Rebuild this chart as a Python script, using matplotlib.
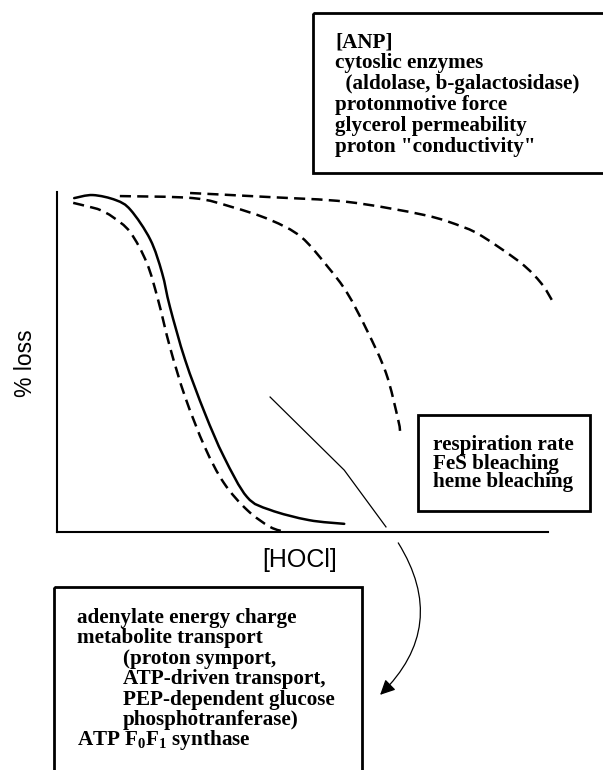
import matplotlib
matplotlib.use("Agg")
import matplotlib.pyplot as plt
from matplotlib.patches import Rectangle, PathPatch
from matplotlib.path import Path

plt.rcParams['lines.scale_dashes'] = False
plt.rcParams['mathtext.fontset'] = 'custom'
plt.rcParams['mathtext.rm'] = 'Liberation Serif:bold'
plt.rcParams['mathtext.it'] = 'Liberation Serif:bold'
plt.rcParams['mathtext.bf'] = 'Liberation Serif:bold'

# ---------------- data (schematic, HOCl in arbitrary units 0-100, y 0-100) ----
solid_x = [3.5, 7.3, 12.0, 15.0, 19.0, 21.4, 23.0, 26.1, 30.1, 34.0, 38.7, 43.4, 51.3, 58.5]
solid_y = [98.2, 99.1, 97.6, 94.7, 86.0, 76.2, 66.2, 50.6, 35.0, 22.1, 10.3, 6.5, 3.5, 2.4]

dash1_x = [3.3, 6.7, 8.8, 11.4, 14.9, 18.3, 20.6, 23.0, 26.1, 30.1, 34.0, 38.7, 43.4, 46.6]
dash1_y = [96.8, 95.6, 94.7, 92.6, 88.2, 79.1, 68.2, 54.4, 39.7, 25.0, 14.4, 6.5, 1.5, 0.0]

dash2_x = [12.8, 27.7, 35.6, 43.4, 49.7, 55.2, 59.1, 63.1, 67.0, 69.5, 69.9]
dash2_y = [98.8, 98.2, 95.6, 91.8, 86.8, 77.9, 70.3, 59.4, 46.8, 32.9, 29.1]

dash3_x = [27.1, 43.4, 59.1, 74.9, 82.7, 86.8, 94.5, 98.6, 100.8]
dash3_y = [99.7, 98.5, 97.1, 93.2, 89.7, 86.8, 79.1, 73.2, 68.2]

thin_x = [43.4, 58.5, 67.0]
thin_y = [39.7, 18.2, 1.5]

arrow_start = (69.5, -3.2)
arrow_end = (65.8, -47.9)

top_box_lines = ['[ANP]', 'cytoslic enzymes', '  (aldolase, b-galactosidase)',
                 'protonmotive force', 'glycerol permeability', 'proton "conductivity"']
mid_box_lines = ['respiration rate', 'FeS bleaching', 'heme bleaching']
bottom_box_lines = ['adenylate energy charge', 'metabolite transport',
                    '(proton symport,', 'ATP-driven transport,',
                    'PEP-dependent glucose', 'phosphotranferase)',
                    r'ATP F$_{0}$F$_{1}$ synthase']
bottom_indent = [False, False, True, True, True, True, False]


def smooth_path(xs, ys):
    """Catmull-Rom curve through the read points, drawn as cubic Bezier path."""
    pts = list(zip(xs, ys))
    n = len(pts)
    verts = [pts[0]]
    codes = [Path.MOVETO]
    for i in range(n - 1):
        p0 = pts[i - 1] if i > 0 else pts[i]
        p1 = pts[i]
        p2 = pts[i + 1]
        p3 = pts[i + 2] if i + 2 < n else pts[i + 1]
        c1 = (p1[0] + (p2[0] - p0[0]) / 6, p1[1] + (p2[1] - p0[1]) / 6)
        c2 = (p2[0] - (p3[0] - p1[0]) / 6, p2[1] - (p3[1] - p1[1]) / 6)
        verts += [c1, c2, p2]
        codes += [Path.CURVE4] * 3
    return Path(verts, codes)


# ---------------- figure ----------------
W, H = 603, 770
fig = plt.figure(figsize=(W / 100, H / 100), dpi=100)

# overlay in pixel coordinates for the annotation boxes
ov = fig.add_axes([0, 0, 1, 1])
ov.set_xlim(0, W)
ov.set_ylim(H, 0)
ov.axis('off')

serif = dict(family='Liberation Serif', fontweight='bold', fontsize=15.2, color='black')

# top box
ov.add_patch(Rectangle((313, 13), 300, 160, fill=False, lw=2.0, ec='black', clip_on=False))
for i, t in enumerate(top_box_lines):
    ov.text(335, 47 + i * 21, t, ha='left', va='baseline', **serif)

# middle box
ov.add_patch(Rectangle((418, 415), 172, 96, fill=False, lw=2.0, ec='black'))
for i, t in enumerate(mid_box_lines):
    ov.text(433, 450 + i * 18.5, t, ha='left', va='baseline', **serif)

# bottom box
ov.add_patch(Rectangle((54, 587), 308, 200, fill=False, lw=2.0, ec='black', clip_on=False))
for i, (t, ind) in enumerate(zip(bottom_box_lines, bottom_indent)):
    ov.text(123 if ind else 77, 623 + i * 20.4, t, ha='left', va='baseline', **serif)

# main axes
ax = fig.add_axes([57 / W, 1 - 532 / H, 491 / W, 340 / H])
ax.patch.set_alpha(0)
ax.set_xlim(0, 100)
ax.set_ylim(0, 100)
for s in ['top', 'right']:
    ax.spines[s].set_visible(False)
for s in ['left', 'bottom']:
    ax.spines[s].set_linewidth(1.5)
ax.set_xticks([])
ax.set_yticks([])

dash = (0, (8, 4.5))
ax.add_patch(PathPatch(smooth_path(solid_x, solid_y), fill=False, ec='black', lw=1.8,
                       capstyle='round', clip_on=False))
for xs, ys in [(dash1_x, dash1_y), (dash2_x, dash2_y), (dash3_x, dash3_y)]:
    ax.add_patch(PathPatch(smooth_path(xs, ys), fill=False, ec='black', lw=1.8,
                           linestyle=dash, clip_on=False))
ax.plot(thin_x, thin_y, color='black', lw=0.9, clip_on=False)

ax.annotate('', xy=arrow_end, xytext=arrow_start, annotation_clip=False,
            arrowprops=dict(arrowstyle='-|>,head_length=0.45,head_width=0.22',
                            connectionstyle='arc3,rad=-0.4', lw=0.9, color='black',
                            shrinkA=0, shrinkB=0, mutation_scale=20))

ax.set_ylabel('% loss', family='Liberation Sans', fontsize=16.5)
ax.yaxis.set_label_coords(-0.065, 0.497)
ax.yaxis.label.set_va('center')
ax.set_xlabel('[HOCl]', family='Liberation Sans', fontsize=18)
ax.xaxis.set_label_coords(0.495, -0.082)
ax.xaxis.label.set_va('center')

fig.savefig('out.png', dpi=100)
